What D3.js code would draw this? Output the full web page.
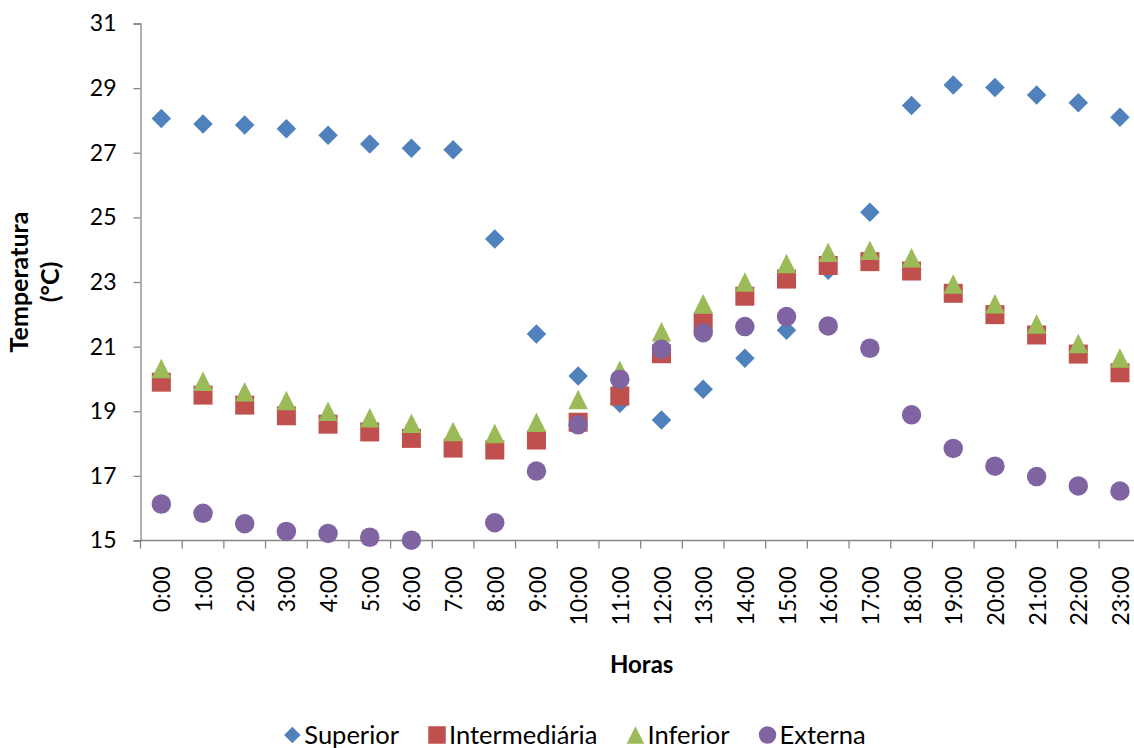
<!DOCTYPE html>
<html>
<head>
<meta charset="utf-8">
<script src="https://cdn.jsdelivr.net/npm/d3@7"></script>
<style>
  html, body { margin: 0; padding: 0; background: #fff; }
  svg { display: block; font-family: Lato, "Open Sans", sans-serif; }
</style>
</head>
<body>
<svg id="chart" width="1134" height="748"></svg>
<script>
// Hourly temperatures (°C) at three heights inside the enclosure and outside
const hours = ["0:00","1:00","2:00","3:00","4:00","5:00","6:00","7:00","8:00","9:00","10:00","11:00",
               "12:00","13:00","14:00","15:00","16:00","17:00","18:00","19:00","20:00","21:00","22:00","23:00"];
const superior = [28.06, 27.89, 27.86, 27.74, 27.54, 27.27, 27.14, 27.09, 24.33, 21.39, 20.09, 19.25,
                  18.73, 19.68, 20.64, 21.51, 23.36, 25.16, 28.46, 29.10, 29.02, 28.79, 28.55, 28.10];
const intermediaria = [19.90, 19.50, 19.19, 18.86, 18.60, 18.36, 18.16, 17.86, 17.80, 18.11, 18.66, 19.47,
                       20.78, 21.74, 22.56, 23.09, 23.51, 23.63, 23.34, 22.65, 21.99, 21.36, 20.77, 20.19];
const inferior = [20.32, 19.93, 19.60, 19.33, 19.00, 18.80, 18.63, 18.37, 18.31, 18.66, 19.36, 20.27,
                  21.46, 22.33, 23.00, 23.57, 23.92, 23.98, 23.75, 22.94, 22.33, 21.70, 21.10, 20.65];
const externa = [16.13, 15.84, 15.52, 15.28, 15.22, 15.10, 15.01, null, 15.55, 17.15, 18.58, 19.99,
                 20.92, 21.43, 21.62, 21.93, 21.64, 20.95, 18.89, 17.85, 17.30, 16.98, 16.69, 16.53];
const yTicks = [15, 17, 19, 21, 23, 25, 27, 29, 31];

const seriesNames = ["Superior", "Intermediária", "Inferior", "Externa"];
const seriesValues = [superior, intermediaria, inferior, externa];
const seriesColors = ["#4F81BD", "#C0504D", "#9BBB59", "#8064A2"];
const seriesShapes = ["diamond", "square", "triangle", "circle"];

const svg = d3.select("#chart");
const plot = { left: 140.5, right: 1140.8, top: 23.5, bottom: 540.5 };

const x = d3.scaleBand().domain(hours).range([plot.left, plot.right]).padding(0);
const y = d3.scaleLinear().domain([15, 31]).range([plot.bottom, plot.top]);

const axisColor = "#868686";

// Marker path generator, centred on the bounding box
function markerPath(shape, s) {
  const h = s / 2;
  if (shape === "diamond") return `M0,${-h}L${h},0L0,${h}L${-h},0Z`;
  if (shape === "square") return `M${-h},${-h}H${h}V${h}H${-h}Z`;
  if (shape === "triangle") return `M0,${-h}L${h},${h}H${-h}Z`;
  return `M${h},0A${h},${h} 0 1,1 ${-h},0A${h},${h} 0 1,1 ${h},0Z`;
}
const markerSize = { diamond: 19.5, square: 19, triangle: 19.5, circle: 19.5 };

// Y axis
const yAxis = d3.axisLeft(y).tickValues(yTicks).tickSize(7).tickPadding(17).tickFormat(d3.format("d"));
const gy = svg.append("g").attr("transform", `translate(${plot.left},0)`).call(yAxis);
gy.select(".domain").attr("stroke", axisColor).attr("stroke-width", 1.3);
gy.selectAll(".tick line").attr("stroke", axisColor).attr("stroke-width", 1.3);
gy.selectAll(".tick text").attr("fill", "#000").style("font-size", "23px")
  .style("font-family", "Lato, sans-serif");

// X axis: ticks on category boundaries, labels rotated
const gx = svg.append("g").attr("transform", `translate(0,${plot.bottom})`);
gx.append("line").attr("x1", plot.left).attr("x2", plot.right).attr("y1", 0).attr("y2", 0)
  .attr("stroke", axisColor).attr("stroke-width", 1.3);
const bounds = hours.map(h => x(h)).concat([x(hours[hours.length - 1]) + x.bandwidth()]);
gx.selectAll("line.tick").data(bounds).join("line").attr("class", "tick")
  .attr("x1", d => d).attr("x2", d => d).attr("y1", 0).attr("y2", 8)
  .attr("stroke", axisColor).attr("stroke-width", 1.3);
gx.selectAll("text").data(hours).join("text")
  .attr("transform", d => `translate(${x(d) + x.bandwidth() / 2 + 1},26) rotate(-90)`)
  .attr("text-anchor", "end").attr("dy", "0.35em")
  .style("font-size", "23px").attr("fill", "#000")
  .text(d => d);

// Axis titles
const yTitle = svg.append("text")
  .attr("transform", `translate(0,${(plot.top + plot.bottom) / 2}) rotate(-90)`)
  .attr("text-anchor", "middle").style("font-weight", "bold").style("font-size", "25px");
yTitle.append("tspan").attr("x", 0).attr("y", 28).text("Temperatura");
yTitle.append("tspan").attr("x", 0).attr("y", 59).text("(°C)");

svg.append("text").attr("x", (plot.left + plot.right) / 2 + 1).attr("y", 673)
  .attr("text-anchor", "middle").style("font-weight", "bold").style("font-size", "24px")
  .text("Horas");

// Markers, series drawn in order so later ones sit on top
seriesValues.forEach((vals, i) => {
  const shape = seriesShapes[i];
  svg.append("g").selectAll("path")
    .data(hours.map((h, j) => ({ h, v: vals[j] })).filter(d => d.v != null))
    .join("path")
    .attr("transform", d => `translate(${x(d.h) + x.bandwidth() / 2},${y(d.v)})`)
    .attr("d", markerPath(shape, markerSize[shape]))
    .attr("fill", seriesColors[i]);
});

// Legend
const legend = svg.append("g").attr("transform", "translate(0,735)");
const items = [];
seriesNames.forEach((name, i) => {
  const g = legend.append("g");
  const shape = seriesShapes[i];
  g.append("path").attr("d", markerPath(shape, shape === "diamond" ? 16.5 : 17.5))
    .attr("transform", "translate(9,0)").attr("fill", seriesColors[i]);
  const t = g.append("text").attr("x", 21).attr("dy", "0.35em")
    .style("font-size", "25.5px").attr("fill", "#000").text(name);
  const w = 21 + t.node().getComputedTextLength();
  items.push({ g, w });
});
const gap = 29;
const total = d3.sum(items, d => d.w) + gap * (items.length - 1);
let cursor = 574.5 - total / 2;
items.forEach(it => {
  it.g.attr("transform", `translate(${cursor},0)`);
  cursor += it.w + gap;
});
</script>
</body>
</html>
